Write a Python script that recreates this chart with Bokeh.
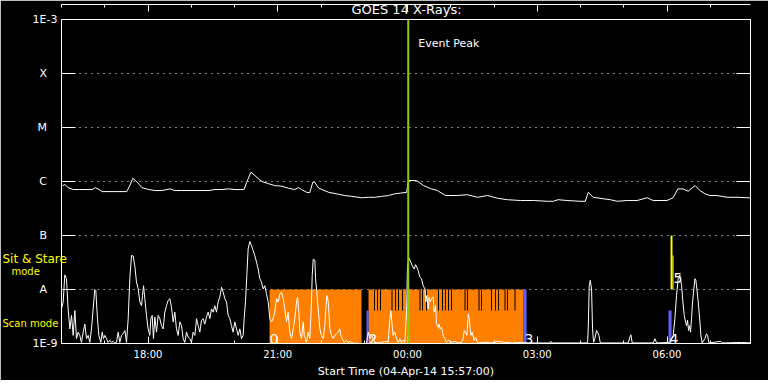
import numpy as np
from bokeh.plotting import figure
from bokeh.models import LinearAxis, LogAxis, FixedTicker, Label, Span
from bokeh.core.properties import value
from bokeh.embed import file_html
from bokeh.resources import INLINE

FONT = "DejaVu Sans"

# ---------------- data ----------------
# GOES-14 long channel (1-8 A): time in decimal hours from 04-Apr-14 00:00, flux W/m^2
long_t_h = [16.02, 16.08, 16.15, 16.27, 16.41, 16.71, 16.78, 16.87, 16.94, 17.17,
            17.51, 17.58, 17.65, 17.75, 17.86, 18.02, 18.16, 18.32, 18.51, 18.62,
            18.78, 19.41, 19.55, 19.71, 19.87, 20.01, 20.22, 20.28, 20.38, 20.47,
            20.63, 20.79, 20.93, 21.09, 21.25, 21.39, 21.48, 21.55, 21.67, 21.74,
            21.81, 21.85, 21.95, 22.02, 22.18, 22.41, 22.55, 22.71, 22.94, 23.10,
            23.24, 23.40, 23.56, 23.70, 23.84, 23.98, 24.02, 24.21, 24.37, 24.53,
            24.69, 24.88, 25.15, 25.38, 25.62, 25.85, 26.08, 26.31, 26.61, 26.91,
            27.23, 27.37, 27.48, 27.69, 27.99, 28.11, 28.18, 28.29, 28.52, 28.69,
            28.85, 29.08, 29.31, 29.54, 29.68, 30.00, 30.14, 30.25, 30.37, 30.49,
            30.65, 30.76, 30.88, 30.99, 31.15, 31.39, 31.62, 31.85, 31.92]
long_flux = [8.4e-7, 8.8e-7, 7.7e-7, 7.1e-7, 7.1e-7, 7.1e-7, 7.7e-7, 7.1e-7, 6.5e-7, 6.5e-7,
             6.5e-7, 8.4e-7, 1.15e-6, 9.7e-7, 7.7e-7, 7.1e-7, 6.8e-7, 6.8e-7, 7.3e-7, 6.8e-7,
             6.8e-7, 6.8e-7, 7.1e-7, 7.1e-7, 7.3e-7, 7.1e-7, 7.1e-7, 9.6e-7, 1.49e-6, 1.29e-6,
             1.0e-6, 9.1e-7, 8.4e-7, 8.2e-7, 7.5e-7, 7.1e-7, 7.7e-7, 7.1e-7, 6.3e-7, 6.2e-7,
             9.7e-7, 9.7e-7, 7.5e-7, 7.1e-7, 6.3e-7, 5.8e-7, 5.5e-7, 5.3e-7, 5.0e-7, 5.1e-7,
             5.1e-7, 5.3e-7, 5.5e-7, 5.9e-7, 6.1e-7, 6.3e-7, 1.04e-6, 1.04e-6, 8.4e-7, 7.4e-7,
             6.8e-7, 5.5e-7, 5.5e-7, 5.7e-7, 5.1e-7, 5.5e-7, 4.9e-7, 4.6e-7, 4.45e-7, 4.45e-7,
             4.3e-7, 4.3e-7, 4.6e-7, 4.45e-7, 4.3e-7, 4.3e-7, 6.3e-7, 5.1e-7, 4.8e-7, 4.6e-7,
             4.3e-7, 4.45e-7, 4.45e-7, 5.0e-7, 4.45e-7, 4.45e-7, 5.0e-7, 7.3e-7, 7.3e-7, 6.6e-7,
             8.4e-7, 6.8e-7, 5.9e-7, 5.5e-7, 5.5e-7, 5.1e-7, 5.1e-7, 5.0e-7, 5.0e-7]

# GOES-14 short channel (0.5-4 A): minutes after 16:00, log10 of flux (W/m^2)
short_t_min = [
    0.0, 2.3, 4.6, 6.9, 9.2, 11.6, 13.9, 16.2, 18.5, 20.8, 23.1, 25.4, 27.7, 30.1, 32.4,
    34.7, 37.0, 39.3, 41.6, 43.9, 46.2, 47.6, 49.9, 51.8, 54.6, 56.4, 58.3, 60.1, 62.4,
    64.7, 67.0, 69.4, 71.7, 74.0, 76.3, 78.6, 80.9, 83.2, 85.5, 87.9, 90.2, 92.5, 94.8,
    97.1, 99.4, 101.7, 104.0, 106.4, 108.7, 111.0, 112.4, 113.8, 115.6, 117.9, 120.2,
    122.5, 123.9, 125.8, 127.6, 129.5, 131.8, 134.1, 136.4, 138.7, 141.0, 143.3, 145.7,
    148.0, 150.3, 152.6, 154.9, 157.2, 159.5, 161.8, 164.2, 166.5, 168.8, 171.1, 173.4,
    175.7, 178.0, 180.3, 182.6, 185.0, 187.3, 189.6, 191.9, 194.2, 196.5, 198.8, 201.1,
    203.5, 205.8, 208.1, 210.4, 212.7, 215.0, 217.3, 219.6, 222.0, 224.3, 226.6, 228.9,
    231.2, 233.5, 235.8, 238.1, 240.4, 242.8, 245.1, 247.4, 249.7, 252.0, 253.4, 255.2,
    257.1, 258.9, 261.3, 263.6, 265.9, 268.2, 270.5, 272.8, 275.1, 277.4, 279.8, 282.1,
    284.4, 286.7, 289.0, 291.3, 293.6, 295.9, 298.2, 300.6, 302.9, 305.2, 307.5, 309.8,
    312.1, 314.4, 316.7, 319.1,
    321.4, 323.7, 326.0, 327.4, 329.3, 330.7, 333.0, 335.3, 336.7, 338.5, 339.9, 342.2,
    344.5, 346.8, 347.8, 349.2, 351.5, 352.4, 353.8, 355.2, 356.1, 358.4, 360.7, 363.0,
    365.3, 366.7, 368.1, 370.0, 370.9, 372.3, 374.6, 376.9, 379.2, 381.5, 383.8, 386.1,
    387.5, 389.4, 392.2, 395.4, 397.7, 400.0, 402.3, 404.6, 406.9, 420.8, 423.1, 425.5,
    427.8, 430.1, 434.7, 439.3, 443.9, 448.6, 453.2, 455.5, 456.9, 458.7, 460.1, 462.4,
    464.8, 467.1, 469.4, 471.7, 474.0, 476.3, 478.6, 480.0, 481.9, 484.6, 486.5, 489.3,
    491.1, 493.0, 494.8, 497.1, 499.4, 501.8, 504.1, 505.5, 506.8, 508.7, 510.1, 511.5,
    513.3, 515.6, 517.0, 518.9, 520.2, 522.6, 523.9, 525.3, 527.2, 529.5, 531.8, 534.1,
    536.4, 541.1, 545.7, 550.3, 554.9, 557.2, 558.6, 560.5, 562.3, 564.2, 565.6, 567.9,
    569.7, 572.5, 574.3, 577.1, 580.4, 585.0, 591.9, 596.5, 605.8, 615.0, 624.3, 638.2,
    647.4, 677.5, 678.9, 680.7, 729.8, 730.7, 732.1, 733.5, 735.3, 736.7, 738.1, 739.9,
    742.2, 743.6, 745.5, 747.3, 749.2, 786.2, 788.5, 789.9, 791.7, 820.9, 823.2, 825.5,
    844.0, 848.6, 850.9, 853.2, 855.5, 857.8, 860.2, 862.0, 863.9, 865.7, 867.1, 868.5,
    869.9, 871.3, 872.6, 874.0, 875.4, 876.8, 878.7, 880.0, 881.4, 883.3, 885.6, 887.0,
    888.8, 892.5, 894.8, 896.2, 898.1, 914.7, 916.6, 943.4, 957.3]
short_log = [
    -8.36, -8.23, -7.73, -7.80, -8.36, -8.73, -8.48, -8.85, -8.39, -8.91, -8.79, -8.85, -8.98, -8.79, -8.64,
    -8.91, -8.85, -8.98, -8.73, -8.36, -8.00, -8.02, -8.54, -8.85, -8.98, -8.79, -8.91, -8.85, -8.91,
    -8.98, -8.94, -8.98, -8.96, -8.99, -8.98, -8.79, -8.98, -8.85, -8.82, -8.76, -8.98, -8.54, -7.80,
    -7.37, -7.38, -7.56, -7.86, -7.99, -8.23, -8.30, -8.11, -7.93, -8.17, -8.48, -8.73,
    -8.85, -8.54, -8.48, -8.91, -8.51, -8.79, -8.48, -8.54, -8.67, -8.73, -8.42, -8.30,
    -8.20, -8.17, -8.33, -8.60, -8.42, -8.73, -8.85, -8.60, -8.67, -8.91, -8.98, -8.79,
    -8.88, -8.91, -8.98, -8.79, -8.85, -8.54, -8.67, -8.79, -8.57, -8.54, -8.64, -8.51,
    -8.42, -8.54, -8.36, -8.42, -8.30, -8.42, -8.23, -8.14, -7.96, -8.05, -8.17, -8.23,
    -8.48, -8.54, -8.67, -8.79, -8.60, -8.73, -8.85, -8.73, -8.91, -8.85, -8.54, -8.23,
    -7.74, -7.25, -7.11, -7.19, -7.28, -7.37, -7.49, -7.62, -7.80, -7.86, -7.99, -7.93,
    -8.08, -8.23, -8.54, -8.60, -8.54, -8.42, -8.17, -8.23, -8.08, -8.05, -8.17, -8.36,
    -8.60, -8.42, -8.79, -8.91,
    -8.73, -8.54, -8.23, -8.14, -8.42, -8.79, -8.91, -8.60, -8.85, -8.91, -8.98, -8.79,
    -8.91, -8.23, -7.74, -7.44, -7.46, -7.80, -7.99, -8.23, -8.36, -8.73, -8.85, -8.91,
    -8.67, -8.36, -8.11, -8.23, -8.42, -8.73, -8.85, -8.91, -8.85, -8.82, -8.79, -8.73,
    -8.85, -8.91, -8.98, -8.94, -8.98, -8.96, -8.98, -8.99, -9.10, -9.10, -9.00, -8.79,
    -8.91, -8.85, -8.98, -8.99, -8.98, -8.96, -8.98, -8.54, -8.39, -8.67, -8.85, -8.79,
    -8.91, -8.98, -8.91, -8.98, -8.94, -8.98, -8.42, -7.56, -7.42, -7.49, -7.56, -7.62,
    -7.54, -7.59, -7.65, -7.77, -7.80, -7.93, -7.99, -8.23, -8.11, -8.36, -8.14, -8.23,
    -8.17, -8.14, -8.42, -8.30, -8.64, -8.70, -8.64, -8.73, -8.70, -8.85, -8.91, -8.98,
    -8.94, -8.98, -8.96, -8.99, -8.98, -8.91, -8.76, -8.79, -8.85, -8.45, -8.54, -8.85,
    -8.79, -8.94, -8.88, -8.98, -8.99, -8.98, -8.98, -8.99, -8.96, -8.98, -8.99, -8.98,
    -8.99, -8.99, -8.96, -8.99, -8.99, -8.73, -7.93, -7.83, -7.99, -8.73, -8.98, -8.91,
    -8.76, -8.79, -8.85, -8.98, -8.99, -8.99, -8.88, -8.84, -8.99, -8.99, -8.91, -8.99,
    -8.98, -8.85, -8.54, -8.11, -7.80, -7.73, -7.93, -8.23, -8.48, -8.60, -8.67, -8.57,
    -8.76, -8.67, -8.79, -8.54, -8.23, -8.05, -7.80, -7.83, -7.99, -8.23, -8.60, -8.85,
    -8.99, -8.91, -8.82, -8.85, -8.99, -8.96, -8.99, -8.98, -8.99]
assert len(short_t_min) == len(short_log)

# observing mode bars (minutes after 16:00)
scan_start_min = [288.6, 425.9]
scan_end_min = [416.2, 640.5]
scan_gap_min = [434.2, 438.4, 442.5, 458.5, 463.4, 467.5, 473.1, 478.6, 497.3, 500.8,
                506.4, 523.0, 528.6, 532.7, 536.9, 541.0, 559.8, 563.2, 579.2, 582.7,
                596.5, 602.1, 606.3, 615.3, 618.7, 629.1]
gap_log_top, gap_log_bottom = -8.0, -8.39
marker_start_min = [423.1, 640.5, 842.1]
marker_end_min = [425.9, 645.1, 846.3]
marker_top_log = [-8.39, -8.0, -8.39]
sit_start_min = [844.9, 847.6]
sit_end_min = [847.6, 849.0]
sit_top_log = [-7.0, -7.37]
seq_labels = ["0", "2", "3", "4", "5"]
seq_t_min = [288.6, 425.9, 642.3, 843.5, 849.0]
seq_log = [-8.91, -8.91, -8.91, -8.91, -7.78]

event_peak_h = 24.017  # 00:01 on 05-Apr

class_levels = [1e-9, 1e-8, 1e-7, 1e-6, 1e-5, 1e-4, 1e-3]
NB = "\u00a0" * 3
class_labels = ["1E-9", "A" + NB, "B" + NB, "C" + NB, "M" + NB, "X" + NB, "1E-3"]
time_ticks_h = [18, 21, 24, 27, 30]
time_tick_labels = ["18:00", "21:00", "00:00", "03:00", "06:00"]
hour_ticks_h = list(range(16, 32))
mode_captions = ["Sit & Stare", "mode", "Scan mode"]

# -------------- derived --------------
short_t_h = 16 + np.array(short_t_min) / 60.0
short_flux = 10.0 ** np.array(short_log)
to_h = lambda m: list(16 + np.array(m) / 60.0)

p = figure(frame_width=689, frame_height=324, x_range=(16.0, 31.93), y_range=(1e-9, 1e-3),
           y_axis_type="log", output_backend="svg", toolbar_location=None, title=None,
           background_fill_color="black", border_fill_color="black",
           min_border_left=61, min_border_right=9, min_border_top=19, min_border_bottom=33,
           outline_line_color="white")

xt = FixedTicker(ticks=time_ticks_h, minor_ticks=hour_ticks_h)
yt = FixedTicker(ticks=class_levels, minor_ticks=[])

def style_x(ax, labels):
    ax.ticker = xt
    ax.axis_line_color = "white"
    ax.major_tick_line_color = "white"
    ax.minor_tick_line_color = "white"
    ax.major_tick_in = 7
    ax.major_tick_out = 0
    ax.minor_tick_in = 3
    ax.minor_tick_out = 0
    ax.major_label_overrides = {t: l for t, l in zip(time_ticks_h, labels)}
    ax.major_label_text_color = "white"
    ax.major_label_text_font = FONT

def style_y(ax, labels):
    ax.ticker = yt
    ax.axis_line_color = "white"
    ax.major_tick_line_color = "white"
    ax.minor_tick_line_color = None
    ax.major_tick_in = 14
    ax.major_tick_out = 0
    ax.major_label_overrides = {t: l for t, l in zip(class_levels, labels)}
    ax.major_label_text_color = "white"
    ax.major_label_text_font = FONT

bx = p.xaxis[0]
style_x(bx, time_tick_labels)
bx.major_label_text_font_size = "10px"
bx.major_label_standoff = 5
bx.axis_label = "Start Time (04-Apr-14 15:57:00)"
bx.axis_label_text_color = "white"
bx.axis_label_text_font = FONT
bx.axis_label_text_font_size = "11px"
bx.axis_label_text_font_style = "normal"
bx.axis_label_standoff = 2

top = LinearAxis()
style_x(top, [""] * len(time_ticks_h))
top.major_label_text_font_size = "0px"
top.major_label_standoff = 0
p.add_layout(top, "above")

ly = p.yaxis[0]
style_y(ly, class_labels)
ly.major_label_text_font_size = "11px"
ly.major_label_standoff = 4

ry = LogAxis()
style_y(ry, [""] * len(class_levels))
ry.major_label_text_font_size = "0px"
ry.major_label_standoff = 0
p.add_layout(ry, "right")

p.xgrid.visible = False
p.ygrid.ticker = FixedTicker(ticks=class_levels[1:-1])
p.ygrid.grid_line_color = "white"
p.ygrid.grid_line_dash = "1 5"
p.ygrid.grid_line_width = 1

# observing mode bars
p.quad(left=to_h(scan_start_min), right=to_h(scan_end_min), bottom=1e-9, top=1e-8,
       fill_color="#ff8000", line_color=None)
gx = to_h(scan_gap_min)
p.segment(x0=gx, x1=gx, y0=10 ** gap_log_top, y1=10 ** gap_log_bottom,
          line_color="black", line_width=1)
p.quad(left=to_h(marker_start_min), right=to_h(marker_end_min), bottom=1e-9,
       top=list(10.0 ** np.array(marker_top_log)), fill_color="#6060ff", line_color=None)
p.quad(left=to_h(sit_start_min), right=to_h(sit_end_min), bottom=1e-8,
       top=list(10.0 ** np.array(sit_top_log)), fill_color="#ffff00", line_color=None)

# light curves
p.line(list(short_t_h), list(short_flux), line_color="white", line_width=1)
p.line(long_t_h, long_flux, line_color="white", line_width=1)

p.text(x=to_h(seq_t_min), y=list(10.0 ** np.array(seq_log)), text=seq_labels,
       text_color="white", text_font=value(FONT), text_font_size="14px",
       text_align="left", text_baseline="alphabetic")

p.add_layout(Span(location=event_peak_h, dimension="height", line_color="#96c800", line_width=2))
p.add_layout(Label(x=event_peak_h, y=3.67e-4, x_offset=10, text="Event Peak",
                   text_color="white", text_font=FONT, text_font_size="11px",
                   text_baseline="middle"))

# title: a side-panel label above the frame (its panel fits inside the top border)
title_lbl = Label(x=345, y=10, x_units="screen", y_units="screen", text="GOES 14 X-Rays:",
                  text_color="white", text_font=FONT, text_font_size="13px",
                  text_align="center", text_baseline="middle")
p.above = [title_lbl] + list(p.above)

# yellow mode captions at the left edge: side-panel labels (not clipped to the frame),
# parked in the right-hand panel and positioned through the plot's own scales
px_per_h = 689 / (31.93 - 16.0)
for txt, px, flux, fs in [("Sit & Stare", 2, 3.6e-8, "12px"),
                          ("mode", 11, 2.15e-8, "10px"),
                          ("Scan mode", 2, 2.35e-9, "10px")]:
    p.add_layout(Label(x=16.0 - (61 - px) / px_per_h, y=flux, text=txt,
                       text_color="#ffff00", text_font=FONT, text_font_size=fs,
                       text_align="left", text_baseline="middle"), "right")
# the parked panels stick out past the window on the right; pull the box back in
p.margin = (0, -150, 0, 0)

open("out.html", "w").write(file_html(p, INLINE))
